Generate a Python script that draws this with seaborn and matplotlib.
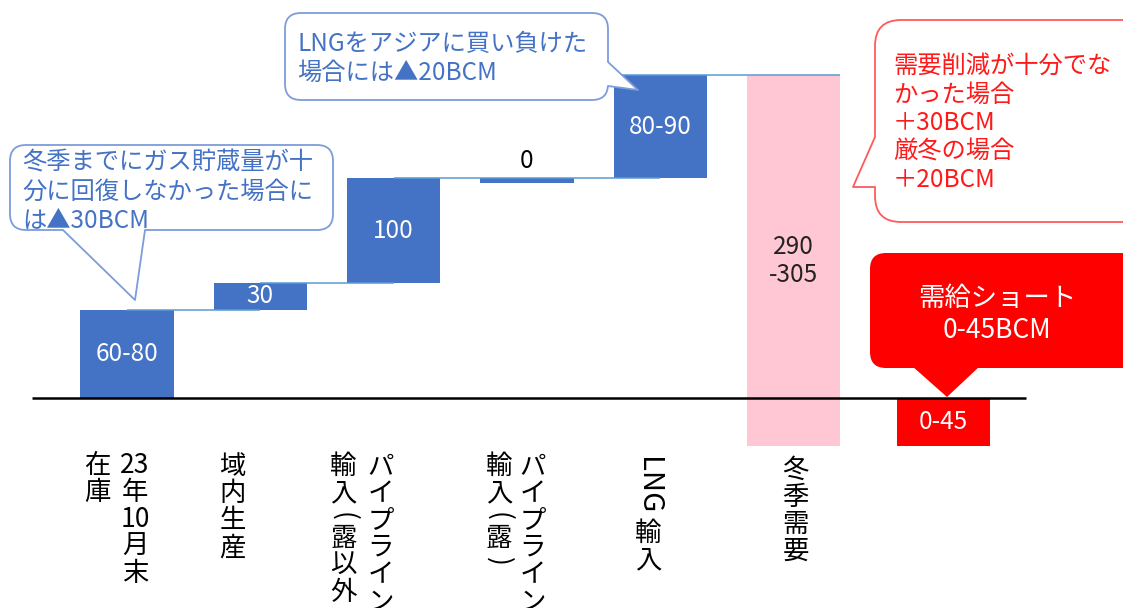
import numpy as np
import pandas as pd
import matplotlib
matplotlib.use("Agg")
import matplotlib.pyplot as plt
from matplotlib import transforms as mtransforms
from matplotlib.patches import FancyBboxPatch, Polygon
import seaborn as sns

# ---------------- data ----------------
categories = ["23年10月末在庫", "域内生産", "パイプライン輸入(露以外)",
              "パイプライン輸入(露)", "LNG輸入", "冬季需要"]
supply_values = [82, 25, 97, 0, 96]          # plotted heights (BCM, as drawn)
supply_labels = ["60-80", "30", "100", "0", "80-90"]
demand_value = 345
demand_label = ["290", "-305"]
shortfall_value = 45
shortfall_label = "0-45"

# vertical (tategaki) tick labels: columns listed right-to-left
tick_columns = [
    [["23", "年", "10", "月", "末"], ["在", "庫"]],
    [["域", "内", "生", "産"]],
    [["パ", "イ", "プ", "ラ", "イ", "ン"], ["輸", "入", "(", "露", "以", "外", ")"]],
    [["パ", "イ", "プ", "ラ", "イ", "ン"], ["輸", "入", "(", "露", ")"]],
    [["LNG", "輸", "入"]],
    [["冬", "季", "需", "要"]],
]

callout_stock = ["冬季までにガス貯蔵量が十", "分に回復しなかった場合に", "は▲30BCM"]
callout_lng = ["LNGをアジアに買い負けた", "場合には▲20BCM"]
callout_demand = ["需要削減が十分でな", "かった場合", "＋30BCM", "厳冬の場合", "＋20BCM"]
callout_short = ["需給ショート", "0-45BCM"]

# ---------------- style ----------------
BLUE = "#4472C4"
PINK = "#FFC7D3"
RED = "#FF0000"
LINE_BLUE = "#5B9BD5"
BOX_EDGE = "#7C9DDA"
RED_EDGE = "#FF5A5A"

sns.set_theme(style="white")
plt.rcParams["font.family"] = ["Noto Sans CJK JP", "DejaVu Sans"]

W, H = 1123, 608
fig = plt.figure(figsize=(W / 100, H / 100), dpi=100)
ax = fig.add_axes([0, 0, 1, 1])

# pixel transform (origin top-left)
T = mtransforms.Affine2D().scale(1, -1).translate(0, H)

# ---------------- bars ----------------
n = len(supply_values)
vals = np.array(supply_values, dtype=float)
cum = np.cumsum(vals)
bottoms = cum - vals
MIN_H = 4.6
drawn = np.where(vals == 0, MIN_H, vals)
bottoms = np.where(vals == 0, cum - MIN_H, bottoms)

positions = np.arange(len(categories), dtype=float)
short_pos = len(categories) + 0.125
BW = 0.7

df_supply = pd.DataFrame({"pos": positions[:n], "height": drawn})
sns.barplot(data=df_supply, x="pos", y="height", native_scale=True, width=BW,
            bottom=bottoms, color=BLUE, saturation=1, errorbar=None,
            linewidth=0, ax=ax, zorder=2)

top = cum[-1]
df_demand = pd.DataFrame({"pos": [positions[n]], "height": [demand_value]})
sns.barplot(data=df_demand, x="pos", y="height", native_scale=True, width=BW,
            bottom=top - demand_value, color=PINK, saturation=1, errorbar=None,
            linewidth=0, ax=ax, zorder=2)

df_short = pd.DataFrame({"pos": [short_pos], "height": [shortfall_value]})
sns.barplot(data=df_short, x="pos", y="height", native_scale=True, width=BW,
            bottom=-shortfall_value, color=RED, saturation=1, errorbar=None,
            linewidth=0, ax=ax, zorder=2)

# connectors
for i in range(n - 1):
    ax.plot([positions[i], positions[i + 1]], [cum[i], cum[i]],
            color=LINE_BLUE, lw=1.1, zorder=3, solid_capstyle="butt")
ax.plot([positions[n - 1] - BW / 2, positions[n] + BW / 2], [top, top],
        color=LINE_BLUE, lw=1.1, zorder=3, solid_capstyle="butt")

# baseline
ax.plot([positions[0] - 0.71, short_pos + 0.62], [0, 0], color="black",
        lw=1.8, zorder=4, solid_capstyle="butt")

# value labels
VFS = 17.5
for i in range(n):
    if vals[i] == 0:
        ax.annotate(supply_labels[i], (positions[i], cum[i]), xytext=(0, 4),
                    textcoords="offset pixels", ha="center", va="bottom",
                    fontsize=VFS, color="black", zorder=6)
    else:
        ax.text(positions[i], bottoms[i] + vals[i] / 2, supply_labels[i],
                ha="center", va="center", fontsize=VFS, color="white", zorder=6)
dmid = top - demand_value / 2
for k, s in enumerate(demand_label):
    ax.annotate(s, (positions[n], dmid), xytext=(0, 14 - 28 * k),
                textcoords="offset pixels", ha="center", va="center",
                fontsize=VFS, color="#222222", zorder=6)
ax.text(short_pos, -shortfall_value / 2, shortfall_label, ha="center",
        va="center", fontsize=VFS, color="white", zorder=6)

ax.set_xlim(-127 / 133.3, (W - 127) / 133.3)
ppu = 323 / 300.0
ax.set_ylim(-(H - 398) / ppu, 398 / ppu)
ax.axis("off")

# ---------------- vertical tick labels ----------------
TFS = 19
PITCH = 27
PAREN_STEP = 18
col_offsets = [[8, -30], [-28], [-13, -50], [6, -28], [-12], [2]]
col_tops = [452, 453, 453, 453, 457, 457]
for i, cols in enumerate(tick_columns):
    for c, items in enumerate(cols):
        tr = mtransforms.blended_transform_factory(ax.transData, T) + \
            mtransforms.Affine2D().translate(col_offsets[i][c], 0)
        y = col_tops[i]
        for it in items:
            if it.isascii() and it.isalpha():
                ax.text(positions[i], y, it, rotation=-90, ha="center", va="top",
                        fontsize=TFS + 2, color="black", transform=tr)
                y += 63
            elif it in "()":
                ax.text(positions[i], y + PAREN_STEP / 2, it, rotation=-90,
                        ha="center", va="center", fontsize=TFS, color="black",
                        transform=tr)
                y += PAREN_STEP
            else:
                ax.text(positions[i], y + PITCH / 2, it, ha="center", va="center",
                        fontsize=TFS, color="black", transform=tr)
                y += PITCH


# ---------------- callouts ----------------
def outlined_callout(x0, y0, x1, y1, base1, tip, base2, inward, edge, r):
    box = FancyBboxPatch((x0, y0), x1 - x0, y1 - y0,
                         boxstyle=f"round,pad=0,rounding_size={r}",
                         fc="white", ec=edge, lw=1.3, transform=T, zorder=7)
    ax.add_patch(box)
    dx, dy = inward
    cover = Polygon([(base1[0] + dx, base1[1] + dy), base1, tip, base2,
                     (base2[0] + dx, base2[1] + dy)], closed=True,
                    fc="white", ec="none", transform=T, zorder=8)
    ax.add_patch(cover)
    ax.plot([base1[0], tip[0], base2[0]], [base1[1], tip[1], base2[1]],
            color=edge, lw=1.3, transform=T, zorder=9)


def text_lines(x, y0, lines, pitch, color, fs, ha="left"):
    for k, s in enumerate(lines):
        ax.text(x, y0 + k * pitch, s, ha=ha, va="center", fontsize=fs,
                color=color, transform=T, zorder=10)


CFS = 17.5
outlined_callout(10, 145, 333, 230, (63, 230), (135, 300), (145, 230), (0, -3), BOX_EDGE, 16)
text_lines(22, 163, callout_stock, 29, BLUE, CFS)

outlined_callout(285, 13, 608, 100, (608, 62), (638, 90), (608, 86), (-3, 0), BOX_EDGE, 16)
text_lines(297, 44, callout_lng, 29, BLUE, CFS)

outlined_callout(875, 20, 1150, 222, (875, 137), (853, 187), (875, 187), (3, 0), RED_EDGE, 26)
text_lines(893, 66, callout_demand, 28.5, "#FF1A1A", CFS)

box = FancyBboxPatch((870, 253), 290, 115, boxstyle="round,pad=0,rounding_size=16",
                     fc=RED, ec="none", transform=T, zorder=7)
ax.add_patch(box)
ax.add_patch(Polygon([(912, 366), (980, 366), (947, 397)], closed=True, fc=RED,
                     ec="none", transform=T, zorder=7))
text_lines(997, 298, callout_short, 32, "white", 19, ha="center")

fig.savefig("out.png", dpi=100)
